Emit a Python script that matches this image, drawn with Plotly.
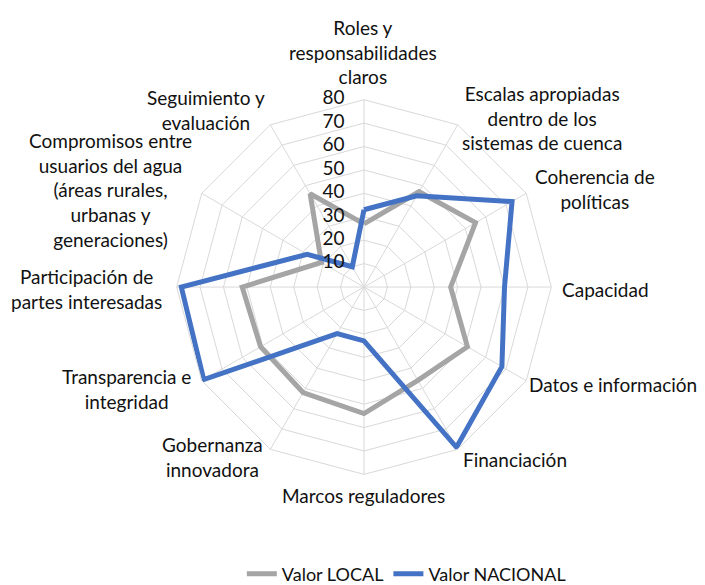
import plotly.graph_objects as go

# Categorias (en sentido horario, empezando arriba)
categorias = [
    "Roles y<br>responsabilidades<br>claros",
    "Escalas apropiadas<br>dentro de los<br>sistemas de cuenca",
    "Coherencia de<br>políticas",
    "Capacidad",
    "Datos e información",
    "Financiación",
    "Marcos reguladores",
    "Gobernanza<br>innovadora",
    "Transparencia e<br>integridad",
    "Participación de<br>partes interesadas",
    "Compromisos entre<br>usuarios del agua<br>(áreas rurales,<br>urbanas y<br>generaciones)",
    "Seguimiento y<br>evaluación",
]

valor_local = [27, 47, 55, 37, 51, 46, 54, 52, 51, 52, 21, 46]
valor_nacional = [33, 45, 73, 60, 68, 79, 23, 23, 79, 78, 28, 10]

radial_ticks = [0, 10, 20, 30, 40, 50, 60, 70, 80]

# posicion (px en la ventana) del centro de cada etiqueta
W, H = 705, 585
OFF = 8  # margen del body de la pagina
pos_etiquetas = [(363, 52), (542, 118), (595, 190), (605, 290), (613, 386),
                 (515, 461), (364, 497), (213, 459), (126, 390), (86, 290),
                 (111, 191), (206, 110)]

fig = go.Figure()
fig.add_trace(go.Scatterpolar(
    r=valor_local + valor_local[:1], theta=categorias + categorias[:1],
    mode="lines", name="Valor LOCAL",
    line=dict(color="#A5A5A5", width=5),
))
fig.add_trace(go.Scatterpolar(
    r=valor_nacional + valor_nacional[:1], theta=categorias + categorias[:1],
    mode="lines", name="Valor NACIONAL",
    line=dict(color="#4472C4", width=5),
))
# etiquetas del eje radial, a la izquierda del eje vertical
fig.add_trace(go.Scatterpolar(
    r=radial_ticks, theta=[categorias[0]] * len(radial_ticks),
    mode="text", text=[f"{v}\u00a0\u00a0\u00a0\u00a0" for v in radial_ticks],
    textposition="middle left", textfont=dict(size=19, color="#111111"),
    showlegend=False, hoverinfo="skip",
))

for txt, (px, py) in zip(categorias, pos_etiquetas):
    fig.add_annotation(
        x=(px - OFF) / W, y=1 - (py - OFF) / H, xref="paper", yref="paper",
        text=txt, showarrow=False, align="center",
        xanchor="center", yanchor="middle",
    )

fig.update_layout(
    width=W, height=H,
    margin=dict(l=0, r=0, t=0, b=0),
    paper_bgcolor="white",
    font=dict(family="Lato, Open Sans, sans-serif", size=19, color="#111111"),
    polar=dict(
        domain=dict(x=[0.2383, 0.7716], y=[0.2, 0.8427]),
        bgcolor="white",
        gridshape="linear",
        angularaxis=dict(
            direction="clockwise", rotation=90,
            showline=True, linecolor="#D9D9D9", linewidth=1,
            gridcolor="#D9D9D9", ticks="", showticklabels=False,
        ),
        radialaxis=dict(
            range=[0, 80], tickvals=radial_ticks, angle=90,
            showticklabels=False,
            showline=False, gridcolor="#D9D9D9", ticks="",
        ),
    ),
    legend=dict(
        orientation="h", x=0.565, xanchor="center", y=0.029, yanchor="middle",
        font=dict(size=18),
    ),
)

fig.write_html("out.html")
